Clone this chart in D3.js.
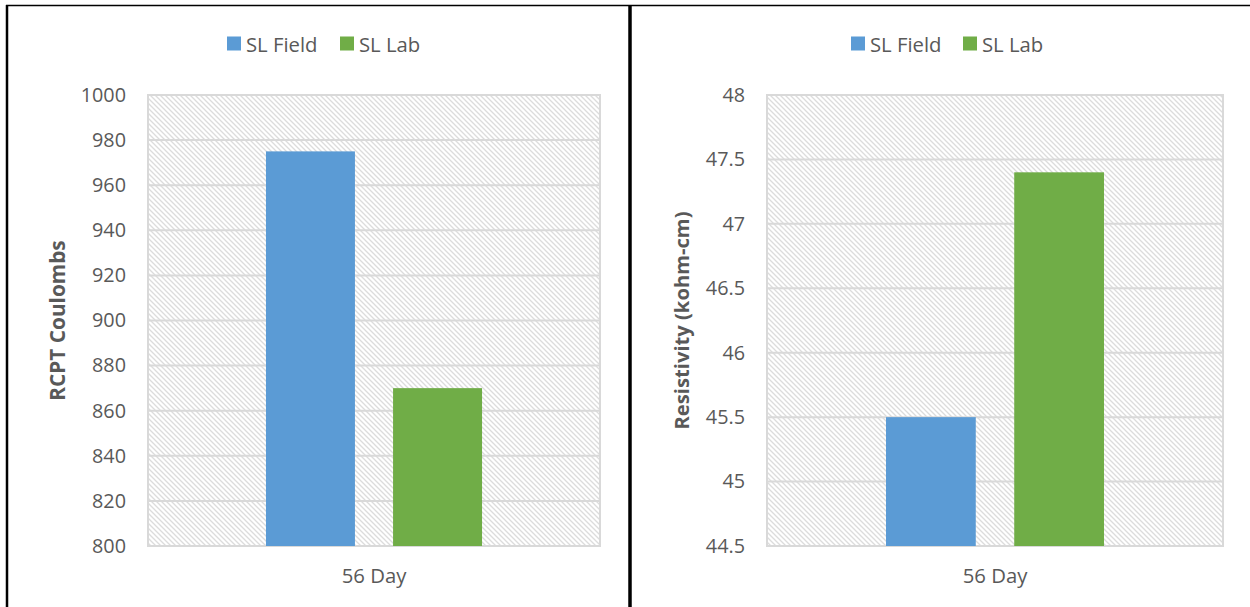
<!DOCTYPE html>
<html>
<head>
<meta charset="utf-8">
<script src="https://cdn.jsdelivr.net/npm/d3@7"></script>
<style>
  html, body { margin: 0; padding: 0; background: #ffffff; }
  svg { display: block; }
  text { font-family: "Open Sans", "Noto Sans", sans-serif; fill: #595959; }
</style>
</head>
<body>
<svg id="chart" width="1250" height="607"></svg>
<script>
// Data
const categories = ["56 Day"];
const seriesNames = ["SL Field", "SL Lab"];
const seriesColors = ["#5b9bd5", "#70ad47"];
const rcptValues = [975, 870];
const resistivityValues = [45.5, 47.4];
const rcptTicks = [800, 820, 840, 860, 880, 900, 920, 940, 960, 980, 1000];
const resistivityTicks = [44.5, 45, 45.5, 46, 46.5, 47, 47.5, 48];

const svg = d3.select("#chart");

// Diagonal hatch used as the plot-area fill
const defs = svg.append("defs");
const pat = defs.append("pattern")
  .attr("id", "hatch")
  .attr("patternUnits", "userSpaceOnUse")
  .attr("width", 5).attr("height", 5);
pat.append("rect").attr("width", 5).attr("height", 5).attr("fill", "#ffffff");
pat.append("path")
  .attr("d", "M0,0 L5,5 M-1,4 L1,6 M4,-1 L6,1")
  .attr("stroke", "#dcdcdc").attr("stroke-width", 1.3);

function drawPanel(opt) {
  const g = svg.append("g");
  const { left, top, width, height } = opt.plot;

  const y = d3.scaleLinear()
    .domain([opt.ticks[0], opt.ticks[opt.ticks.length - 1]])
    .range([top + height, top]);

  const x0 = d3.scaleBand()
    .domain(categories)
    .range([left, left + width])
    .paddingInner(0).paddingOuter(0.546);

  const x1 = d3.scaleBand()
    .domain(seriesNames)
    .range([0, x0.bandwidth()])
    .paddingInner(0.3).paddingOuter(0);

  // plot area
  g.append("rect")
    .attr("x", left).attr("y", top)
    .attr("width", width).attr("height", height)
    .attr("fill", "url(#hatch)");

  // gridlines
  g.append("g").selectAll("line")
    .data(opt.ticks)
    .join("line")
    .attr("x1", left).attr("x2", left + width)
    .attr("y1", d => y(d)).attr("y2", d => y(d))
    .attr("stroke", "#d9d9d9").attr("stroke-width", 2);

  // plot border
  g.append("rect")
    .attr("x", left).attr("y", top)
    .attr("width", width).attr("height", height)
    .attr("fill", "none").attr("stroke", "#d9d9d9").attr("stroke-width", 2);

  // y-axis labels
  const yAxis = d3.axisLeft(y).tickValues(opt.ticks).tickSize(0).tickPadding(22)
    .tickFormat(d3.format(""));
  const ya = g.append("g").attr("transform", `translate(${left},0)`).call(yAxis);
  ya.select(".domain").remove();
  ya.selectAll("text")
    .style("font-family", '"Open Sans", "Noto Sans", sans-serif')
    .style("font-size", "19.8px").attr("fill", "#595959");

  // bars
  categories.forEach(cat => {
    g.append("g").selectAll("rect")
      .data(seriesNames.map((s, i) => ({ s, v: opt.values[i], c: seriesColors[i] })))
      .join("rect")
      .attr("x", d => x0(cat) + x1(d.s))
      .attr("width", x1.bandwidth())
      .attr("y", d => y(d.v))
      .attr("height", d => y(opt.ticks[0]) - y(d.v))
      .attr("fill", d => d.c);
  });

  // x-axis labels
  const xAxis = d3.axisBottom(x0).tickSize(0).tickPadding(23);
  const xa = g.append("g").attr("transform", `translate(0,${top + height})`).call(xAxis);
  xa.select(".domain").remove();
  xa.selectAll("text")
    .style("font-family", '"Open Sans", "Noto Sans", sans-serif')
    .style("font-size", "20.3px").attr("fill", "#595959");

  // axis title
  g.append("text")
    .attr("transform", `translate(${opt.titleX},${top + height / 2}) rotate(-90)`)
    .attr("text-anchor", "middle")
    .attr("dominant-baseline", "central")
    .style("font-size", opt.titleSize).style("font-weight", "bold")
    .text(opt.title);

  // legend
  const leg = g.append("g");
  opt.legendX.forEach((lx, i) => {
    leg.append("rect")
      .attr("x", lx).attr("y", 36.5)
      .attr("width", 14).attr("height", 14)
      .attr("fill", seriesColors[i]);
    leg.append("text")
      .attr("x", lx + 19).attr("y", 43.5)
      .attr("dominant-baseline", "central")
      .style("font-size", "20.3px")
      .text(seriesNames[i]);
  });
}

drawPanel({
  plot: { left: 148, top: 95, width: 452, height: 451 },
  ticks: rcptTicks,
  values: rcptValues,
  title: "RCPT Coulombs",
  titleSize: "20.8px",
  titleX: 57,
  legendX: [227, 340]
});

drawPanel({
  plot: { left: 767, top: 95, width: 456, height: 451 },
  ticks: resistivityTicks,
  values: resistivityValues,
  title: "Resistivity (kohm-cm)",
  titleSize: "20.2px",
  titleX: 681,
  legendX: [851, 963]
});

// panel frames
svg.append("line").attr("x1", 6).attr("x2", 1250).attr("y1", 5.5).attr("y2", 5.5)
  .attr("stroke", "#000").attr("stroke-width", 1.5);
svg.append("line").attr("x1", 7).attr("x2", 7).attr("y1", 5).attr("y2", 607)
  .attr("stroke", "#000").attr("stroke-width", 2.5);
svg.append("line").attr("x1", 630).attr("x2", 630).attr("y1", 5).attr("y2", 607)
  .attr("stroke", "#000").attr("stroke-width", 3.5);
</script>
</body>
</html>
